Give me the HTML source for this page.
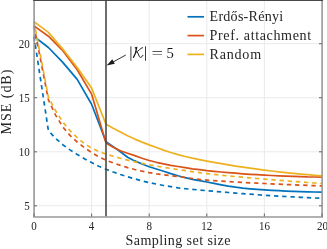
<!DOCTYPE html>
<html><head><meta charset="utf-8"><title>MSE vs sampling set size</title>
<style>
html,body{margin:0;padding:0;background:#fff;}
body{width:327px;height:249px;overflow:hidden;font-family:"Liberation Serif",serif;}
svg{display:block;font-family:"Liberation Serif",serif;will-change:transform;}
text{stroke:none;}
</style></head><body>
<svg width="327" height="249" viewBox="0 0 327 249">
<rect width="327" height="249" fill="#fff"/>
<g stroke="#eaeaea" stroke-width="1">
<line x1="91.6" y1="0.5" x2="91.6" y2="216.6"/>
<line x1="149.2" y1="0.5" x2="149.2" y2="216.6"/>
<line x1="206.8" y1="0.5" x2="206.8" y2="216.6"/>
<line x1="264.4" y1="0.5" x2="264.4" y2="216.6"/>
<line x1="34.0" y1="205.8" x2="322.0" y2="205.8"/>
<line x1="34.0" y1="151.8" x2="322.0" y2="151.8"/>
<line x1="34.0" y1="97.7" x2="322.0" y2="97.7"/>
<line x1="34.0" y1="43.7" x2="322.0" y2="43.7"/>
</g>
<polyline points="34.0,36.4 48.4,47.5 62.8,62.4 77.2,79.4 91.6,104.2 106.0,141.7 113.2,146.6 120.4,151.8 127.6,157.2 134.8,160.9 142.0,164.0 149.2,166.7 156.4,169.0 163.6,171.2 170.8,173.6 178.0,175.8 185.2,177.7 192.4,179.3 199.6,180.7 206.8,182.0 214.0,183.4 221.2,184.8 228.4,186.1 235.6,187.2 242.8,188.1 250.0,188.8 257.2,189.4 264.4,189.9 271.6,190.3 278.8,190.7 286.0,191.1 293.2,191.4 300.4,191.7 307.6,191.9 314.8,192.0 322.0,192.1" fill="none" stroke="#0072BD" stroke-width="1.7" stroke-linejoin="round"/>
<polyline points="34.0,25.9 48.4,36.2 62.8,50.7 77.2,69.7 91.6,94.1 106.0,143.1 113.2,147.3 120.4,150.7 127.6,153.2 134.8,155.6 142.0,158.2 149.2,160.5 156.4,162.3 163.6,163.9 170.8,165.3 178.0,166.5 185.2,167.7 192.4,168.8 199.6,169.7 206.8,170.6 214.0,171.3 221.2,172.0 228.4,172.6 235.6,173.2 242.8,173.8 250.0,174.3 257.2,174.7 264.4,175.1 271.6,175.5 278.8,175.8 286.0,176.1 293.2,176.4 300.4,176.6 307.6,176.9 314.8,177.0 322.0,177.2" fill="none" stroke="#D95319" stroke-width="1.7" stroke-linejoin="round"/>
<polyline points="34.0,21.6 48.4,32.4 62.8,49.1 77.2,67.5 91.6,88.1 106.0,124.2 113.2,128.3 120.4,132.1 127.6,135.8 134.8,139.1 142.0,142.1 149.2,144.9 156.4,147.5 163.6,150.1 170.8,152.5 178.0,154.6 185.2,156.5 192.4,158.2 199.6,159.7 206.8,161.1 214.0,162.4 221.2,163.7 228.4,164.9 235.6,166.1 242.8,167.2 250.0,168.2 257.2,169.2 264.4,170.1 271.6,171.0 278.8,171.8 286.0,172.6 293.2,173.4 300.4,174.1 307.6,174.7 314.8,175.3 322.0,175.9" fill="none" stroke="#EDB120" stroke-width="1.7" stroke-linejoin="round"/>
<polyline points="34.0,36.4 48.4,130.7 55.6,138.3 62.8,144.7 70.0,149.9 77.2,154.5 84.4,158.7 91.6,162.6 98.8,166.2 106.0,169.3 113.2,172.0 120.4,174.5 127.6,176.8 134.8,178.9 142.0,180.9 149.2,182.6 156.4,184.1 163.6,185.5 170.8,186.7 178.0,187.8 185.2,188.7 192.4,189.4 199.6,190.0 206.8,190.7 214.0,191.3 221.2,191.9 228.4,192.5 235.6,193.1 242.8,193.7 250.0,194.2 257.2,194.7 264.4,195.2 271.6,195.7 278.8,196.1 286.0,196.5 293.2,196.9 300.4,197.3 307.6,197.7 314.8,198.0 322.0,198.3" fill="none" stroke="#0072BD" stroke-width="1.7" stroke-dasharray="4.4 3.8" stroke-dashoffset="0" stroke-linejoin="round"/>
<polyline points="34.0,25.9 48.4,99.9 55.6,115.1 62.8,126.9 70.0,135.4 77.2,142.0 84.4,147.7 91.6,152.5 98.8,156.8 106.0,160.2 113.2,162.9 120.4,165.4 127.6,167.6 134.8,169.5 142.0,171.2 149.2,172.6 156.4,173.8 163.6,174.8 170.8,175.7 178.0,176.6 185.2,177.5 192.4,178.5 199.6,179.4 206.8,180.1 214.0,180.7 221.2,181.2 228.4,181.6 235.6,182.1 242.8,182.5 250.0,182.8 257.2,183.2 264.4,183.5 271.6,183.9 278.8,184.2 286.0,184.5 293.2,184.8 300.4,185.1 307.6,185.4 314.8,185.7 322.0,185.9" fill="none" stroke="#D95319" stroke-width="1.7" stroke-dasharray="4.4 3.8" stroke-dashoffset="0" stroke-linejoin="round"/>
<polyline points="34.0,21.6 48.4,97.2 55.6,110.7 62.8,122.1 70.0,130.7 77.2,137.7 84.4,143.6 91.6,148.2 98.8,151.5 106.0,154.1 113.2,156.3 120.4,158.3 127.6,160.1 134.8,161.8 142.0,163.3 149.2,164.7 156.4,166.1 163.6,167.3 170.8,168.4 178.0,169.5 185.2,170.6 192.4,171.7 199.6,172.7 206.8,173.6 214.0,174.4 221.2,175.2 228.4,175.9 235.6,176.6 242.8,177.2 250.0,177.9 257.2,178.5 264.4,179.1 271.6,179.7 278.8,180.3 286.0,180.9 293.2,181.4 300.4,181.9 307.6,182.5 314.8,183.0 322.0,183.4" fill="none" stroke="#EDB120" stroke-width="1.7" stroke-dasharray="4.4 3.8" stroke-dashoffset="0" stroke-linejoin="round"/>
<line x1="106.0" y1="0.5" x2="106.0" y2="216.6" stroke="#484848" stroke-width="1.6"/>
<g stroke="#989898" stroke-width="1.6" fill="none">
<line x1="34.1" y1="0" x2="34.1" y2="217.0"/>
<line x1="322.1" y1="0" x2="322.1" y2="217.0"/>
<line x1="33.15" y1="217.0" x2="323.05" y2="217.0"/>
</g>
<g stroke="#707070" stroke-width="1.1" fill="none">
<line x1="34.0" y1="216.6" x2="34.0" y2="213.6"/>
<line x1="91.6" y1="216.6" x2="91.6" y2="213.6"/>
<line x1="149.2" y1="216.6" x2="149.2" y2="213.6"/>
<line x1="206.8" y1="216.6" x2="206.8" y2="213.6"/>
<line x1="264.4" y1="216.6" x2="264.4" y2="213.6"/>
<line x1="322.0" y1="216.6" x2="322.0" y2="213.6"/>
<line x1="34.0" y1="205.8" x2="37.0" y2="205.8"/>
<line x1="322.0" y1="205.8" x2="319.0" y2="205.8"/>
<line x1="34.0" y1="151.8" x2="37.0" y2="151.8"/>
<line x1="322.0" y1="151.8" x2="319.0" y2="151.8"/>
<line x1="34.0" y1="97.7" x2="37.0" y2="97.7"/>
<line x1="322.0" y1="97.7" x2="319.0" y2="97.7"/>
<line x1="34.0" y1="43.7" x2="37.0" y2="43.7"/>
<line x1="322.0" y1="43.7" x2="319.0" y2="43.7"/>
</g>
<line x1="33.15" y1="0.5" x2="323.05" y2="0.5" stroke="#484848" stroke-width="1.1"/>
<g font-size="12" fill="#262626">
<text x="34.0" y="230.3" text-anchor="middle" textLength="5.5" lengthAdjust="spacingAndGlyphs">0</text>
<text x="91.6" y="230.3" text-anchor="middle" textLength="5.5" lengthAdjust="spacingAndGlyphs">4</text>
<text x="149.2" y="230.3" text-anchor="middle" textLength="5.5" lengthAdjust="spacingAndGlyphs">8</text>
<text x="206.8" y="230.3" text-anchor="middle" textLength="11.0" lengthAdjust="spacingAndGlyphs">12</text>
<text x="264.4" y="230.3" text-anchor="middle" textLength="11.0" lengthAdjust="spacingAndGlyphs">16</text>
<text x="322.4" y="230.3" text-anchor="middle" textLength="11.0" lengthAdjust="spacingAndGlyphs">20</text>
<text x="29.8" y="209.7" text-anchor="end" textLength="5.5" lengthAdjust="spacingAndGlyphs">5</text>
<text x="29.8" y="155.7" text-anchor="end" textLength="11.0" lengthAdjust="spacingAndGlyphs">10</text>
<text x="29.8" y="101.6" text-anchor="end" textLength="11.0" lengthAdjust="spacingAndGlyphs">15</text>
<text x="29.8" y="47.6" text-anchor="end" textLength="11.0" lengthAdjust="spacingAndGlyphs">20</text>
</g>
<text x="178" y="244.6" font-size="14.1" fill="#262626" text-anchor="middle" textLength="105" lengthAdjust="spacing">Sampling set size</text>
<text transform="translate(11.2,102) rotate(-90)" font-size="14.1" fill="#262626" text-anchor="middle" textLength="64.8" lengthAdjust="spacing">MSE (dB)</text>
<!-- legend -->
<g stroke-width="1.7">
<line x1="187.5" y1="16.8" x2="204" y2="16.8" stroke="#0072BD"/>
<line x1="187.5" y1="35.6" x2="204" y2="35.6" stroke="#D95319"/>
<line x1="187.5" y1="54.4" x2="204" y2="54.4" stroke="#EDB120"/>
</g>
<g font-size="14.1" fill="#262626">
<text x="209.6" y="21.3" textLength="73.5" lengthAdjust="spacing">Erdős-Rényi</text>
<text x="209.6" y="40.1" textLength="101.5" lengthAdjust="spacing">Pref. attachment</text>
<text x="209.6" y="58.9" textLength="51.5" lengthAdjust="spacing">Random</text>
</g>
<!-- annotation -->
<g fill="#1a1a1a" font-size="14.6">
<line x1="125.8" y1="55" x2="110" y2="63.7" stroke="#1a1a1a" stroke-width="0.9"/>
<path d="M106.6 65.6 L112.3 59.2 L114.8 63.8 Z"/>
<line x1="130.9" y1="46.3" x2="130.9" y2="60.8" stroke="#1a1a1a" stroke-width="0.85"/>
<line x1="145.5" y1="46.3" x2="145.5" y2="60.8" stroke="#1a1a1a" stroke-width="0.85"/>
<g fill="none" stroke="#1a1a1a" stroke-linecap="round">
<path d="M135.3 47.9 L136.6 47.6 C136.3 50.5 135.3 54.5 133.5 57.3" stroke-width="1.3"/>
<path d="M142.6 47.6 C140.2 48 138.6 51.4 136 52.3" stroke-width="0.95"/>
<path d="M137 51.8 C138.6 52.8 138.8 57.4 140.4 57.4 C141.6 57.4 142.4 56.4 142.9 55.3" stroke-width="1.0"/>
</g>
<text x="151.4" y="57.7" textLength="11.5" lengthAdjust="spacingAndGlyphs">=</text>
<text x="166.4" y="57.7">5</text>
</g>
</svg>
</body></html>
